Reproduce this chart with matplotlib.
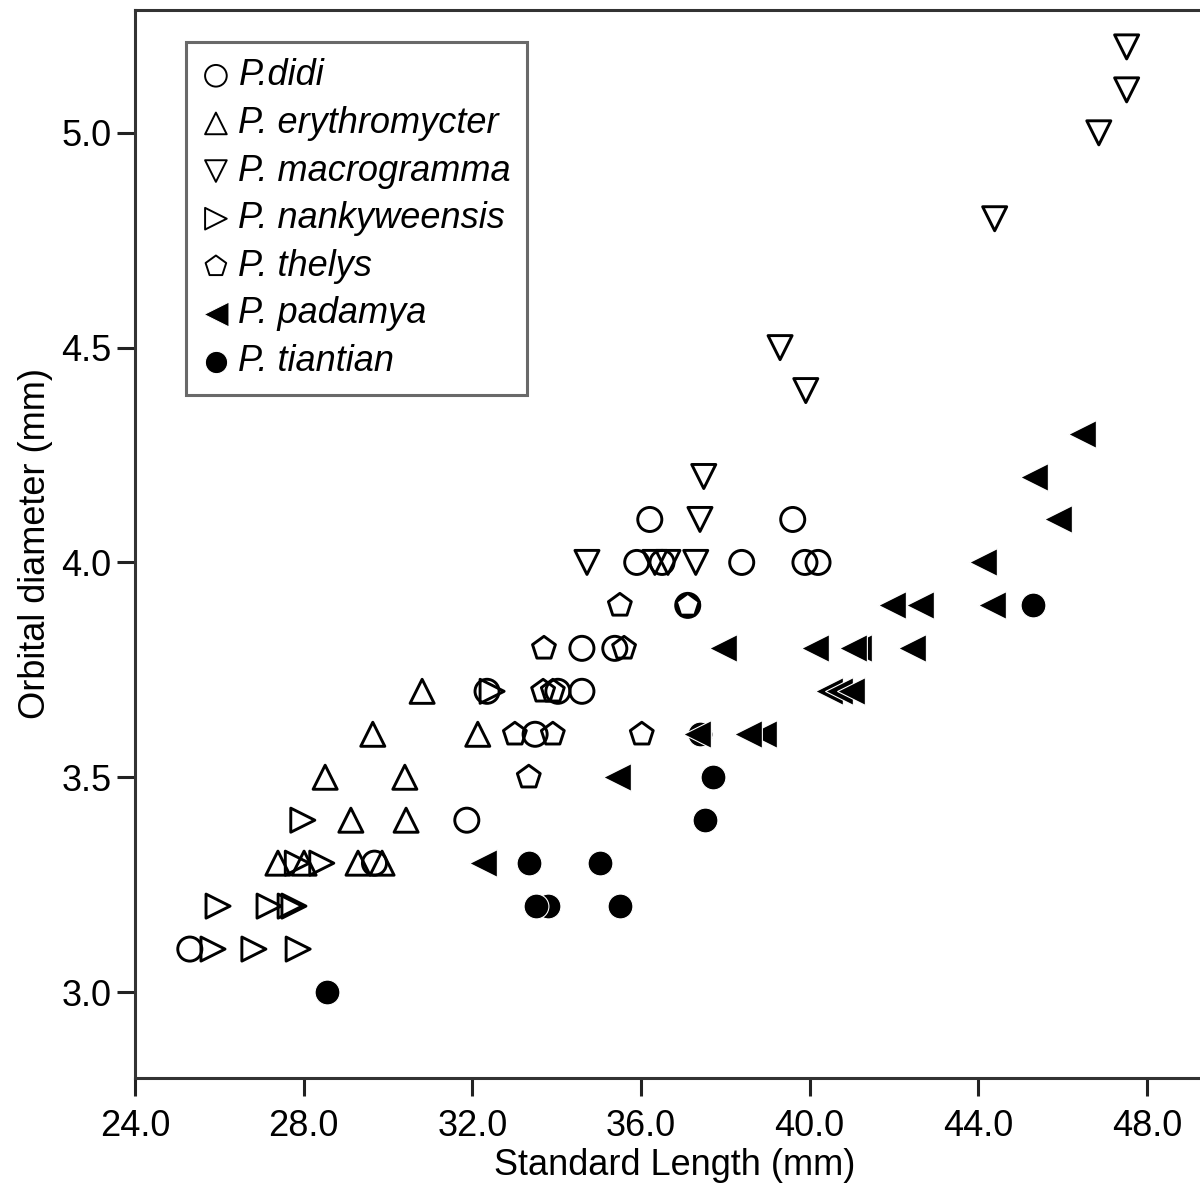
import matplotlib
matplotlib.use("Agg")
import matplotlib.pyplot as plt

plt.rcParams['font.family'] = ['Liberation Sans', 'DejaVu Sans']

# standard length (mm) / orbital diameter (mm)
didi_x = [25.30, 29.68, 31.87, 32.35, 33.49, 34.03, 34.60, 34.60, 35.38,
          35.90, 36.21, 36.50, 37.11, 38.39, 39.60, 39.89, 40.20]
didi_y = [3.1, 3.3, 3.4, 3.7, 3.6, 3.7, 3.7, 3.8, 3.8,
          4.0, 4.1, 4.0, 3.9, 4.0, 4.1, 4.0, 4.0]

ery_x = [27.39, 28.01, 29.29, 29.86, 29.12, 30.43, 28.51, 30.40,
         29.64, 32.13, 30.81]
ery_y = [3.3, 3.3, 3.3, 3.3, 3.4, 3.4, 3.5, 3.5, 3.6, 3.6, 3.7]

macro_x = [34.72, 36.33, 36.64, 37.30, 37.40, 37.49, 39.91, 39.30,
           44.39, 46.86, 47.52, 47.52]
macro_y = [4.0, 4.0, 4.0, 4.0, 4.1, 4.2, 4.4, 4.5, 4.8, 5.0, 5.1, 5.2]

nank_x = [25.85, 26.82, 27.87, 25.97, 27.18, 27.68, 27.77, 27.85,
          28.43, 27.98, 32.47]
nank_y = [3.1, 3.1, 3.1, 3.2, 3.2, 3.2, 3.2, 3.3, 3.3, 3.4, 3.7]

thel_x = [33.34, 33.01, 33.91, 36.02, 33.68, 33.91, 33.70, 35.60,
          35.50, 37.11]
thel_y = [3.5, 3.6, 3.6, 3.6, 3.7, 3.7, 3.8, 3.8, 3.9, 3.9]

pada_x = [32.25, 35.43, 37.33, 38.89, 38.53, 40.46, 40.70, 40.98,
          37.94, 40.13, 41.14, 41.03, 42.43, 41.95, 42.61, 44.32,
          44.11, 45.89, 45.32, 46.46]
pada_y = [3.3, 3.5, 3.6, 3.6, 3.6, 3.7, 3.7, 3.7,
          3.8, 3.8, 3.8, 3.8, 3.8, 3.9, 3.9, 3.9,
          4.0, 4.1, 4.2, 4.3]

tian_x = [28.55, 33.80, 33.51, 35.50, 33.34, 35.03, 37.52, 37.71,
          37.40, 45.29]
tian_y = [3.0, 3.2, 3.2, 3.2, 3.3, 3.3, 3.4, 3.5, 3.6, 3.9]

labels = ['P.didi', 'P. erythromycter', 'P. macrogramma', 'P. nankyweensis',
          'P. thelys', 'P. padamya', 'P. tiantian']

fig = plt.figure(figsize=(12, 11.86), dpi=100)
ax = fig.add_axes([0.1125, 0.0911, 0.8875, 0.9005])

s = 300
open_kw = dict(s=s, facecolors='none', edgecolors='black', linewidths=2.1)

h1 = ax.scatter(didi_x, didi_y, marker='o', **open_kw)
h2 = ax.scatter(ery_x, ery_y, marker='^', **open_kw)
h3 = ax.scatter(macro_x, macro_y, marker='v', **open_kw)
h4 = ax.scatter(nank_x, nank_y, marker='>', **open_kw)
h5 = ax.scatter(thel_x, thel_y, marker='p', **open_kw)
h7 = ax.scatter(tian_x, tian_y, marker='o', s=320, facecolors='black',
                edgecolors='white', linewidths=0.8)
h6 = ax.scatter(pada_x, pada_y, marker='<', s=400, facecolors='black',
                edgecolors='white', linewidths=0.8)

ax.set_xlim(24.0, 49.26)
ax.set_ylim(2.8, 5.286)
ax.set_xticks([24, 28, 32, 36, 40, 44, 48])
ax.set_xticklabels(['24.0', '28.0', '32.0', '36.0', '40.0', '44.0', '48.0'])
ax.set_yticks([3.0, 3.5, 4.0, 4.5, 5.0])
ax.set_yticklabels(['3.0', '3.5', '4.0', '4.5', '5.0'])

for side in ['left', 'bottom', 'top']:
    ax.spines[side].set_color('#333333')
    ax.spines[side].set_linewidth(2.2)
ax.spines['right'].set_visible(False)

ax.tick_params(axis='both', direction='out', length=13, width=2.2,
               labelsize=26, color='#222222')
ax.tick_params(axis='x', pad=9)
ax.tick_params(axis='y', pad=4)

ax.set_xlabel('Standard Length (mm)', fontsize=26)
ax.xaxis.set_label_coords(0.507, -0.066)
ax.set_ylabel('Orbital diameter (mm)', fontsize=26, labelpad=6)

leg = ax.legend([h1, h2, h3, h4, h5, h6, h7], labels,
                loc='upper left', bbox_to_anchor=(0.048, 0.970),
                borderaxespad=0, fancybox=False, frameon=True,
                prop={'style': 'italic', 'size': 26},
                markerscale=0.9, handlelength=0.75, handletextpad=0.25,
                labelspacing=0.35, borderpad=0.45)
leg.get_frame().set_edgecolor('#444444')
leg.get_frame().set_linewidth(2.2)
for hd in leg.legend_handles[:5]:
    hd.set_linewidth(1.4)

plt.savefig('out.png', dpi=100)
